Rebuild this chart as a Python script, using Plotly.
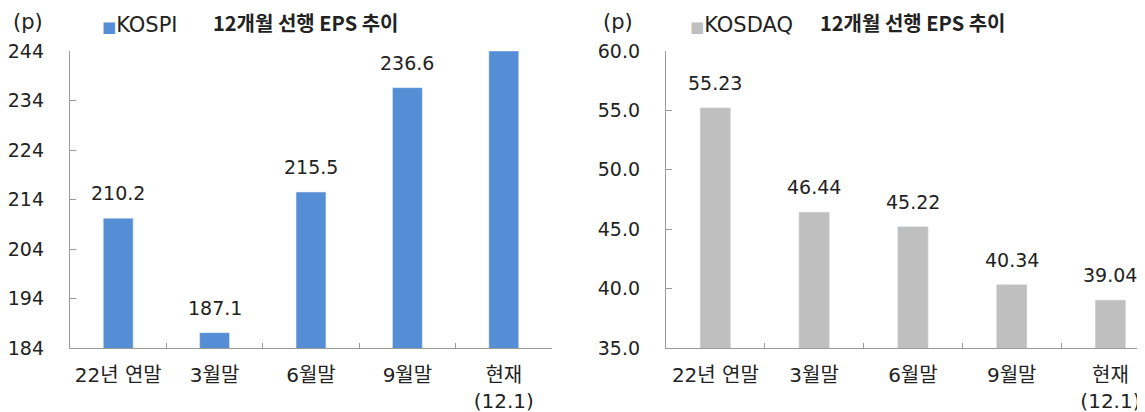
import plotly.graph_objects as go

categories = ["22년 연말", "3월말", "6월말", "9월말", "현재<br>(12.1)"]
kospi_values = [210.2, 187.1, 215.5, 236.6, 244.0]
kosdaq_values = [55.23, 46.44, 45.22, 40.34, 39.04]
kospi_labels = ["210.2", "187.1", "215.5", "236.6", ""]
kosdaq_labels = ["55.23", "46.44", "45.22", "40.34", "39.04"]
kospi_ticks = [184, 194, 204, 214, 224, 234, 244]
kosdaq_ticks = [35.0, 40.0, 45.0, 50.0, 55.0, 60.0]

BLUE = "#558ED5"
GRAY = "#BFBFBF"
AXIS = "#9A9A9A"
TXT = "#222222"
FONT = "DejaVu Sans, Noto Sans CJK KR, sans-serif"
BFONT = "Noto Sans CJK KR, sans-serif"

# page has an 8px body margin; figure is sized to fit the window
OFF = 8
W, H = 1145 - OFF, 412 - OFF

def fx(x):
    return (x - OFF) / W

def fy(y):
    return 1 - (y - OFF) / H

top_px, bot_px = 51, 348
ydom = [fy(bot_px), fy(top_px)]

fig = go.Figure()
fig.add_trace(go.Bar(x=categories, y=kospi_values, marker_color=BLUE, width=0.31,
                     xaxis="x", yaxis="y", showlegend=False, cliponaxis=True))
fig.add_trace(go.Bar(x=categories, y=kosdaq_values, marker_color=GRAY, width=0.31,
                     xaxis="x2", yaxis="y2", showlegend=False, cliponaxis=True))

ann = []
for c, v, t in zip(categories, kospi_values, kospi_labels):
    if t:
        ann.append(dict(x=c, y=v, xref="x", yref="y", text=t, showarrow=False,
                        yanchor="bottom", yshift=12, font=dict(size=19, color=TXT, family=FONT)))
for c, v, t in zip(categories, kosdaq_values, kosdaq_labels):
    ann.append(dict(x=c, y=v, xref="x2", yref="y2", text=t, showarrow=False,
                    yanchor="bottom", yshift=12, font=dict(size=19, color=TXT, family=FONT)))

def hdr(x, text, size=21, color=TXT, family=FONT, yc=22):
    return dict(x=fx(x), y=fy(yc), xref="paper", yref="paper", text=text, showarrow=False,
                xanchor="left", yanchor="middle", font=dict(size=size, color=color, family=family))

ann += [
    hdr(11, "(p)"),
    hdr(100, f"<span style='color:{BLUE};font-size:15px'>■</span>KOSPI", yc=25),
    hdr(211, "<b>12개월 선행 EPS 추이</b>", size=20, family=BFONT),
    hdr(601, "(p)"),
    hdr(688, f"<span style='color:{GRAY};font-size:15px'>■</span>KOSDAQ", yc=25),
    hdr(818, "<b>12개월 선행 EPS 추이</b>", size=20, family=BFONT),
]

xcommon = dict(type="category", showline=True, linecolor=AXIS, linewidth=1.3,
               ticks="inside", tickson="boundaries", ticklen=5, tickcolor=AXIS,
               tickfont=dict(size=20, color=TXT, family=FONT), showgrid=False,
               ticklabelstandoff=9, automargin=False, fixedrange=True)
ycommon = dict(showline=True, linecolor=AXIS, linewidth=1.3, ticks="inside", ticklen=6,
               tickcolor=AXIS, tickfont=dict(size=19, color=TXT, family=FONT),
               showgrid=False, zeroline=False, ticklabelstandoff=21, automargin=False)

fig.update_layout(
    width=W, height=H, margin=dict(l=0, r=0, t=0, b=0, autoexpand=False),
    paper_bgcolor="white", plot_bgcolor="white", bargap=0.69,
    xaxis=dict(domain=[fx(70), fx(552)], anchor="y", range=[-0.5, 4.5], **xcommon),
    yaxis=dict(domain=ydom, anchor="x", range=[184, 244], tickvals=kospi_ticks, **ycommon),
    xaxis2=dict(domain=[fx(666), 1.0], anchor="y2", range=[-0.5, 4.35], **xcommon),
    yaxis2=dict(domain=ydom, anchor="x2", range=[35, 60], tickvals=kosdaq_ticks,
                tickformat=".1f", **ycommon),
    annotations=ann,
)

fig.write_html("out.html")
